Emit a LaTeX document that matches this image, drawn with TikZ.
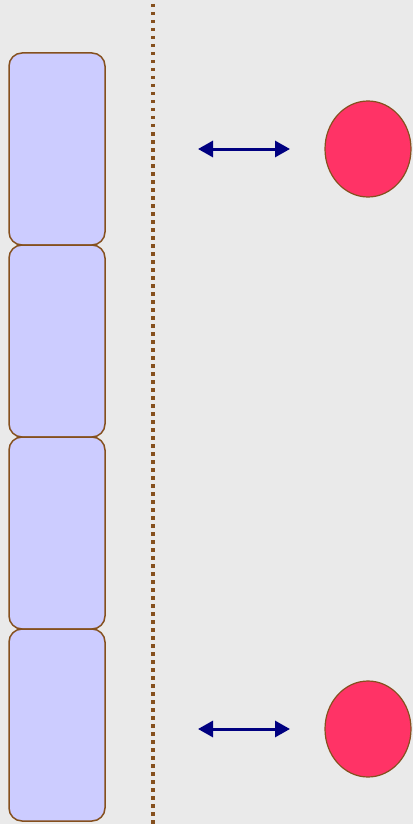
\documentclass[tikz,border=0pt]{standalone}
\usepackage{tikz}
\usepackage{xcolor}
\usetikzlibrary{arrows.meta,shapes.geometric,positioning}
\definecolor{bgray}{HTML}{EAEAEA}
\definecolor{lav}{HTML}{CCCCFF}
\definecolor{rim}{HTML}{85501E}
\definecolor{rose}{HTML}{FF3366}
\definecolor{navyblue}{HTML}{000080}

\begin{document}
\begin{tikzpicture}[
    x=1pt, y=-1pt,
    >={Triangle[length=15pt, width=16pt]},
    cell/.style={rectangle, rounded corners=13pt, draw=rim, line width=1.5pt, fill=lav, minimum width=96pt, minimum height=192pt, inner sep=0pt, outer sep=0pt},
    ball/.style={ellipse, draw=rim, line width=1.2pt, fill=rose, minimum width=86pt, minimum height=96pt, inner sep=0pt},
    link/.style={<->, draw=navyblue, line width=3pt}
  ]
    \fill[bgray] (0,0) rectangle (413,824);
    \useasboundingbox (0,0) rectangle (413,824);
    \draw[rim, line width=3.5pt, dash pattern=on 3.5pt off 4.5pt] (153,4) -- (153,824);
    \node[cell] (c1) at (57,149) {};
    \node[cell, below=0pt of c1] (c2) {};
    \node[cell, below=0pt of c2] (c3) {};
    \node[cell, below=0pt of c3] (c4) {};
    \node[ball] (top) at (368,149) {};
    \node[ball] (bot) at (368,729) {};
    \coordinate (a1) at (198,149);
    \coordinate (b1) at (290,149);
    \coordinate (a2) at (198,729);
    \coordinate (b2) at (290,729);
    \draw[link] (a1) -- (b1);
    \draw[link] (a2) -- (b2);
  \end{tikzpicture}
\end{document}
